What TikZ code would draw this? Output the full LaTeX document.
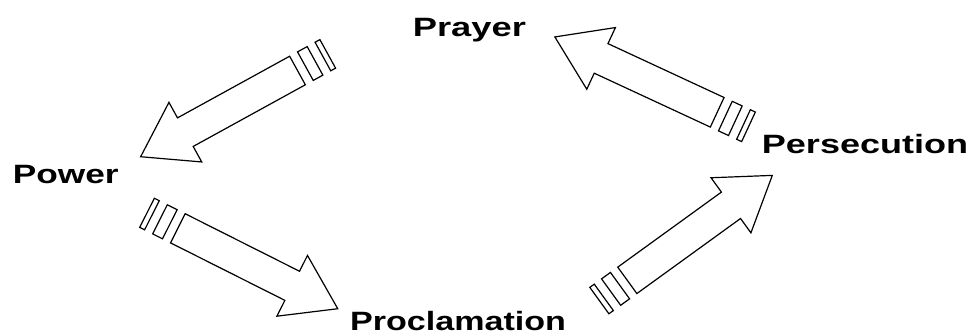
\documentclass[tikz,border=0pt]{standalone}
\usepackage{fontspec}
\setmainfont{Liberation Sans}
\begin{document}
\begin{tikzpicture}[x=1pt,y=1pt,
  arrowline/.style={draw=black,line width=1.2pt,line join=miter,fill=white},
  label/.style={anchor=base west,inner sep=0pt,font=\fontsize{26.5}{30}\selectfont\bfseries},
  pics/blockarrow/.style={code={
    % shaft and head
    \draw[arrowline] (0,-16.3) -- (128,-16.3) -- (128,-34) -- (179,0)
      -- (128,34) -- (128,16.3) -- (0,16.3) -- cycle;
    % stripes behind the tail
    \draw[arrowline] (-9,-16.3) rectangle (-20,16.3);
    \draw[arrowline] (-29,-16.3) rectangle (-34.5,16.3);
  }}]
\useasboundingbox (0,0) rectangle (974,335);

\node[label] (prayer) at (412.7,298.3) {\scalebox{1.37}[1]{Prayer}};
\node[label] (power) at (12.7,151.7) {\scalebox{1.33}[1]{Power}};
\node[label] (persecution) at (761.7,181.7) {\scalebox{1.36}[1]{Persecution}};
\node[label] (proclamation) at (350,5) {\scalebox{1.285}[1]{Proclamation}};

\pic[rotate=208.8] at (297.5,264.5) {blockarrow};
\pic[rotate=-26.7] at (177.85,106.7) {blockarrow};
\pic[rotate=35.9] at (627.3,54.65) {blockarrow};
\pic[rotate=155.1] at (717.2,222.7) {blockarrow};
\end{tikzpicture}
\end{document}
